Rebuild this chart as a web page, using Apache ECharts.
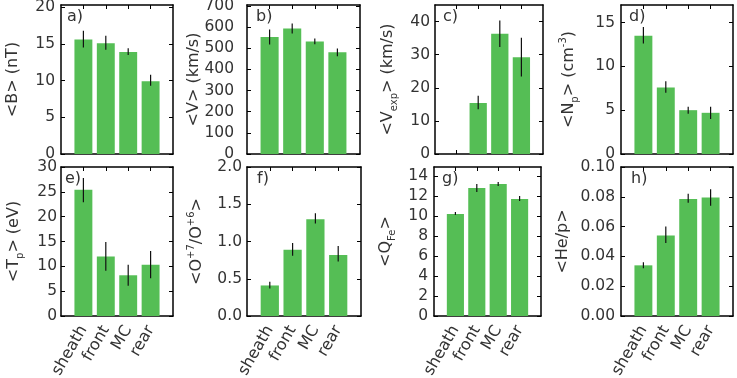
<!DOCTYPE html>
<html>
<head>
<meta charset="utf-8">
<script src="https://cdn.jsdelivr.net/npm/echarts@6/dist/echarts.min.js"></script>
<style>
html,body{margin:0;padding:0;background:#fff;}
#chart{width:737px;height:378px;}
</style>
</head>
<body>
<div id="chart"></div>
<script>
// ---- data ----
const categories = ['sheath', 'front', 'MC', 'rear'];

const B = [15.6, 15.1, 13.9, 9.9];
const B_err = [[14.5, 16.8], [14.2, 16.1], [13.5, 14.4], [9.3, 10.8]];

const V = [554, 594, 532, 481];
const V_err = [[518, 589], [570, 618], [519, 546], [462, 499]];

const Vexp = [null, 15.4, 36.3, 29.2];
const Vexp_err = [null, [13.5, 17.6], [32.3, 40.3], [23.4, 35.1]];

const Np = [13.5, 7.6, 5.0, 4.7];
const Np_err = [[12.6, 14.5], [7.0, 8.3], [4.6, 5.4], [4.0, 5.4]];

const Tp = [25.4, 12.0, 8.2, 10.3];
const Tp_err = [[22.9, 27.8], [9.1, 14.9], [6.1, 10.3], [7.6, 13.1]];

const O76 = [0.41, 0.89, 1.30, 0.82];
const O76_err = [[0.37, 0.46], [0.81, 0.98], [1.24, 1.38], [0.73, 0.94]];

const QFe = [10.2, 12.8, 13.2, 11.7];
const QFe_err = [[10.1, 10.4], [12.4, 13.2], [13.0, 13.4], [11.5, 12.0]];

const HeP = [0.034, 0.054, 0.0785, 0.0795];
const HeP_err = [[0.032, 0.036], [0.049, 0.060], [0.076, 0.082], [0.074, 0.085]];

// tick labels
const ticksB = [0, 5, 10, 15, 20];
const ticksV = [0, 100, 200, 300, 400, 500, 600, 700];
const ticksVexp = [0, 10, 20, 30, 40];
const ticksNp = [0, 5, 10, 15];
const ticksTp = [0, 5, 10, 15, 20, 25, 30];
const ticksO = [0, 0.5, 1.0, 1.5, 2.0];
const ticksQ = [0, 2, 4, 6, 8, 10, 12, 14];
const ticksHe = [0, 0.02, 0.04, 0.06, 0.08, 0.10];

const panels = [
  {lab: 'a)', vals: B, err: B_err, max: 20.3, ticks: ticksB, dec: 0, name: '{n|<B> (nT)}'},
  {lab: 'b)', vals: V, err: V_err, max: 705, ticks: ticksV, dec: 0, name: '{n|<V> (km/s)}'},
  {lab: 'c)', vals: Vexp, err: Vexp_err, max: 45, ticks: ticksVexp, dec: 0, name: '{n|<V}{sub|exp}{n|> (km/s)}'},
  {lab: 'd)', vals: Np, err: Np_err, max: 17, ticks: ticksNp, dec: 0, name: '{n|<N}{sub|p}{n|> (cm}{sup|-3}{n|)}'},
  {lab: 'e)', vals: Tp, err: Tp_err, max: 30, ticks: ticksTp, dec: 0, name: '{n|<T}{sub|p}{n|> (eV)}'},
  {lab: 'f)', vals: O76, err: O76_err, max: 2.0, ticks: ticksO, dec: 1, name: '{n|<O}{sup|+7}{n|/O}{sup|+6}{n|>}'},
  {lab: 'g)', vals: QFe, err: QFe_err, max: 14.9, ticks: ticksQ, dec: 0, name: '{n|<Q}{sub|Fe}{n|>}'},
  {lab: 'h)', vals: HeP, err: HeP_err, max: 0.10, ticks: ticksHe, dec: 2, name: '{n|<He/p>}'}
];

// ---- layout ----
const gridLeft = [61, 247, 435, 621, 61, 247, 434, 621];
const gridWidth = [112, 113, 108, 112, 112, 114, 107, 112];
const gridTop = [5, 5, 5, 5, 167, 167, 167, 167];
const gridHeight = [149, 149, 149, 149, 149, 149, 149, 149];
const nameGaps = [37, 42, 36, 41, 36, 39, 37, 47];
const labelMargins = [6, 13, 5, 6, 4, 5, 6, 6];
const panelLabOffX = [6, 9, 8, 8, 4, 10, 8, 10];

const FONT = 'DejaVu Sans';
const TXT = '#333';
const GREEN = '#55be55';
const catPos = categories.map((c, i) => i);

const grids = [], xAxes = [], yAxes = [], series = [], graphics = [];

panels.forEach((p, k) => {
  grids.push({left: gridLeft[k], top: gridTop[k], width: gridWidth[k], height: gridHeight[k],
              containLabel: false, outerBoundsMode: 'none'});
  const bottomRow = k >= 4;
  const axLine = {show: true, onZero: false, lineStyle: {color: '#000', width: 1.5}};
  const tickStyle = {show: true, inside: true, length: 4, lineStyle: {color: '#000', width: 1}};
  xAxes.push({
    type: 'value', gridIndex: k, position: 'bottom', min: -1, max: 4,
    axisLine: axLine, splitLine: {show: false},
    axisTick: Object.assign({customValues: catPos}, tickStyle),
    axisLabel: {
      show: bottomRow, customValues: catPos, rotate: 60, margin: 11,
      fontFamily: FONT, fontSize: 16, color: TXT,
      formatter: v => categories[Math.round(v)]
    }
  });
  xAxes.push({
    type: 'value', gridIndex: k, position: 'top', min: -1, max: 4,
    axisLine: axLine, splitLine: {show: false},
    axisTick: Object.assign({customValues: catPos}, tickStyle),
    axisLabel: {show: false}
  });
  yAxes.push({
    type: 'value', gridIndex: k, position: 'left', min: 0, max: p.max,
    axisLine: axLine, splitLine: {show: false},
    axisTick: Object.assign({customValues: p.ticks}, tickStyle),
    axisLabel: {
      customValues: p.ticks, margin: labelMargins[k], fontFamily: FONT, fontSize: 15.5, color: TXT,
      formatter: v => Number(v).toFixed(p.dec)
    },
    name: p.name, nameLocation: 'middle', nameGap: nameGaps[k], nameRotate: 90,
    nameMoveOverlap: false,
    nameTextStyle: {
      fontFamily: FONT, color: TXT,
      rich: {
        n: {fontFamily: FONT, fontSize: 16, color: TXT, lineHeight: 22, verticalAlign: 'middle'},
        sub: {fontFamily: FONT, fontSize: 10, color: TXT, lineHeight: 10, verticalAlign: 'bottom'},
        sup: {fontFamily: FONT, fontSize: 10, color: TXT, lineHeight: 10, verticalAlign: 'top'}
      }
    }
  });
  yAxes.push({
    type: 'value', gridIndex: k, position: 'right', min: 0, max: p.max,
    axisLine: axLine, splitLine: {show: false},
    axisTick: Object.assign({customValues: p.ticks}, tickStyle),
    axisLabel: {show: false}
  });

  series.push({
    type: 'bar', xAxisIndex: 2 * k, yAxisIndex: 2 * k,
    barWidth: '80%', itemStyle: {color: GREEN},
    data: p.vals.map((v, i) => [i, v == null ? '-' : v]),
    animation: false, silent: true
  });
  series.push({
    type: 'custom', xAxisIndex: 2 * k, yAxisIndex: 2 * k,
    data: p.err.map((e, i) => e ? [i, e[0], e[1]] : null).filter(d => d),
    encode: {x: 0, y: [1, 2]},
    renderItem: (params, api) => {
      const x = api.value(0), lo = api.value(1), hi = api.value(2);
      const a = api.coord([x, lo]), b = api.coord([x, hi]);
      return {type: 'line', shape: {x1: a[0], y1: a[1], x2: b[0], y2: b[1]},
              style: {stroke: '#111', lineWidth: 1.2}};
    },
    z: 5, animation: false, silent: true
  });

  graphics.push({
    type: 'text', left: gridLeft[k] + panelLabOffX[k], top: gridTop[k] + 4,
    style: {text: p.lab, font: '16px "DejaVu Sans"', fill: TXT}
  });
});

const chart = echarts.init(document.getElementById('chart'), null, {renderer: 'canvas'});
chart.setOption({
  animation: false,
  backgroundColor: '#fff',
  grid: grids,
  xAxis: xAxes,
  yAxis: yAxes,
  series: series,
  graphic: graphics
});
</script>
</body>
</html>
